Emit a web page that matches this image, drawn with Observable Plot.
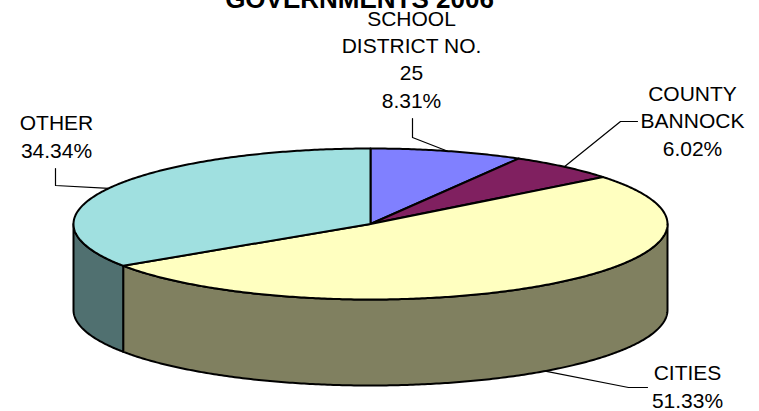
<!DOCTYPE html>
<html><head><meta charset="utf-8">
<script src="https://cdn.jsdelivr.net/npm/d3@7"></script>
<script src="https://cdn.jsdelivr.net/npm/@observablehq/plot@0.6"></script>
<style>body{margin:0;background:#fff} svg{display:block}</style>
</head><body><div id="chart"></div>
<script>
// ---- data ----
const title = "GOVERNMENTS 2006";
const categories = ["SCHOOL DISTRICT NO. 25", "COUNTY BANNOCK", "CITIES", "OTHER"];
const labelLines = [["SCHOOL", "DISTRICT NO.", "25"], ["COUNTY", "BANNOCK"], ["CITIES"], ["OTHER"]];
const shares = [8.31, 6.02, 51.33, 34.34];
const topColors = ["#8080FF", "#802060", "#FFFFC0", "#A0E0E0"];
const sideColors = ["#404080", "#401030", "#808060", "#507070"];

// ---- layout ----
const W = 759, H = 411;
const pie = {cx: 370, cy: 223.5, rx: 297, ry: 75.5, depth: 86};
const labelLayout = [
  {x: 411, y: 107, elbow: [[412, 118], [412, 137]], side: false},
  {x: 692, y: 155, elbow: [[637, 121], [620, 121]], side: false},
  {x: 687, y: 407, elbow: [[647, 387], [628, 387]], side: true},
  {x: 56, y: 157, elbow: [[55, 168], [55, 185]], side: false}
];
const fontFamily = "Liberation Sans, Arial, Helvetica, sans-serif";

// ---- geometry from values ----
const total = d3.sum(shares);
const pt = (a, drop = 0) => ({x: pie.cx + pie.rx * Math.sin(a), y: pie.cy - pie.ry * Math.cos(a) + drop});
const arc = (a0, a1, drop = 0) => {
  const n = Math.max(2, Math.ceil(Math.abs(a1 - a0) / 0.01));
  return d3.range(n + 1).map(i => pt(a0 + (a1 - a0) * i / n, drop));
};
let acc = 0;
const slices = shares.map((v, i) => {
  const a0 = acc / total * 2 * Math.PI;
  acc += v;
  const a1 = acc / total * 2 * Math.PI;
  return {i, a0, a1, mid: (a0 + a1) / 2};
});

const marks = [];
// sides (front half only)
for (const s of slices) {
  const b0 = Math.max(s.a0, Math.PI / 2), b1 = Math.min(s.a1, 3 * Math.PI / 2);
  if (b1 <= b0) continue;
  const poly = [...arc(b0, b1), ...arc(b1, b0, pie.depth)];
  poly.push(poly[0]);
  marks.push(Plot.line(poly, {x: "x", y: "y", fill: sideColors[s.i], stroke: "black", strokeWidth: 2, strokeLinejoin: "round"}));
}
// top faces
for (const s of slices) {
  const c = {x: pie.cx, y: pie.cy};
  const poly = [c, ...arc(s.a0, s.a1), c];
  marks.push(Plot.line(poly, {x: "x", y: "y", fill: topColors[s.i], stroke: "black", strokeWidth: 2, strokeLinejoin: "round"}));
}
// leader lines
for (const s of slices) {
  const L = labelLayout[s.i];
  const end = pt(s.mid, L.side ? pie.depth : 0);
  const pts = [...L.elbow.map(([x, y]) => ({x, y})), end];
  marks.push(Plot.line(pts, {x: "x", y: "y", stroke: "black", strokeWidth: 1.2}));
}
// labels
const labelRows = slices.map(s => ({
  x: labelLayout[s.i].x,
  y: labelLayout[s.i].y,
  text: [...labelLines[s.i], shares[s.i].toFixed(2) + "%"].join("\n")
}));
marks.push(Plot.text(labelRows, {x: "x", y: "y", text: "text", lineAnchor: "bottom", lineHeight: 1.3, fontSize: 21, fontFamily, fill: "black"}));
// title (clipped at top as in the original)
marks.push(Plot.text([title], {x: () => 359, y: () => 7, text: d => d, lineAnchor: "bottom", fontSize: 26, fontWeight: "bold", fontFamily, fill: "black"}));

const chart = Plot.plot({
  width: W, height: H, margin: 0,
  x: {domain: [0, W], range: [0, W], axis: null},
  y: {domain: [0, H], range: [0, H], axis: null},
  style: {background: "white", overflow: "hidden"},
  marks
});
document.getElementById("chart").append(chart);
</script>
</body></html>
